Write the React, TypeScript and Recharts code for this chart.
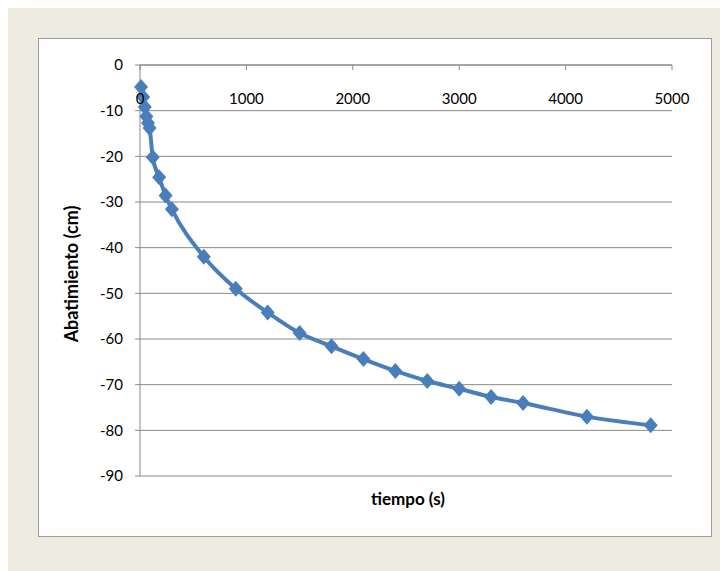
import React from "react";
import { LineChart, Line, XAxis, YAxis, CartesianGrid } from "recharts";

// tiempo (s) vs abatimiento (cm)
const tiempo = [10, 30, 45, 60, 75, 90, 120, 180, 240, 300, 600, 900, 1200, 1500, 1800, 2100, 2400, 2700, 3000, 3300, 3600, 4200, 4800];
const abatimiento = [-4.8, -7, -9.2, -11.3, -12.7, -13.8, -20.2, -24.6, -28.6, -31.6, -42, -49, -54.2, -58.7, -61.6, -64.4, -67, -69.2, -70.9, -72.7, -74, -77, -78.9];
const xTicks = [0, 1000, 2000, 3000, 4000, 5000];
const yTicks = [0, -10, -20, -30, -40, -50, -60, -70, -80, -90];

const data = tiempo.map((t, i) => ({ t, a: abatimiento[i] }));

const BLUE = "#4a7ebb";
const GRID = "#888888";
const FONT = "Lato, 'Open Sans', sans-serif";
const PLOT_TOP = 26;

const Diamond = (props: any) => {
  const { cx, cy } = props;
  if (cx == null || cy == null) return null;
  return (
    <polygon
      points={`${cx},${cy - 8} ${cx + 7},${cy} ${cx},${cy + 8} ${cx - 7},${cy}`}
      fill={BLUE}
    />
  );
};

const renderXTick = (props: any) => {
  const { x, payload } = props;
  return (
    <g>
      <line x1={x} x2={x} y1={PLOT_TOP} y2={PLOT_TOP + 5} stroke={GRID} />
      <text x={x} y={PLOT_TOP + 34} dy="0.35em" textAnchor="middle" fontSize={15} fontFamily={FONT} fill="#000">
        {payload.value}
      </text>
    </g>
  );
};

export default function App() {
  return (
    <div style={{ position: "relative", width: 720, height: 565, marginTop: -2, background: "#eeece1" }}>
      <div
        style={{
          position: "absolute",
          left: 30,
          top: 32,
          width: 674,
          height: 499,
          boxSizing: "border-box",
          border: "1px solid #9c9c9c",
          background: "#fff",
        }}
      >
        <LineChart width={672} height={497} data={data} margin={{ top: 0, right: 39, bottom: 60, left: 41 }}>
          <CartesianGrid vertical={false} stroke={GRID} />
          <XAxis
            dataKey="t"
            type="number"
            orientation="top"
            height={PLOT_TOP}
            domain={[0, 5000]}
            ticks={xTicks}
            axisLine={{ stroke: GRID }}
            tickLine={false}
            tick={renderXTick}
          />
          <YAxis
            type="number"
            width={60}
            domain={[-90, 0]}
            ticks={yTicks}
            axisLine={{ stroke: GRID }}
            tickLine={{ stroke: GRID }}
            tickSize={5}
            tickMargin={12}
            tick={{ fontSize: 15, fontFamily: FONT, fill: "#000" }}
          />
          <Line
            dataKey="a"
            type="monotone"
            stroke={BLUE}
            strokeWidth={4}
            dot={<Diamond />}
            activeDot={false}
            isAnimationActive={false}
          />
        </LineChart>
        <div
          style={{
            position: "absolute",
            left: 369,
            top: 459,
            transform: "translate(-50%, -50%)",
            fontFamily: FONT,
            fontWeight: "bold",
            fontSize: 17,
            whiteSpace: "nowrap",
          }}
        >
          tiempo (s)
        </div>
        <div
          style={{
            position: "absolute",
            left: 32,
            top: 235,
            transform: "translate(-50%, -50%) rotate(-90deg)",
            fontFamily: FONT,
            fontWeight: "bold",
            fontSize: 18,
            whiteSpace: "nowrap",
          }}
        >
          Abatimiento (cm)
        </div>
      </div>
    </div>
  );
}
